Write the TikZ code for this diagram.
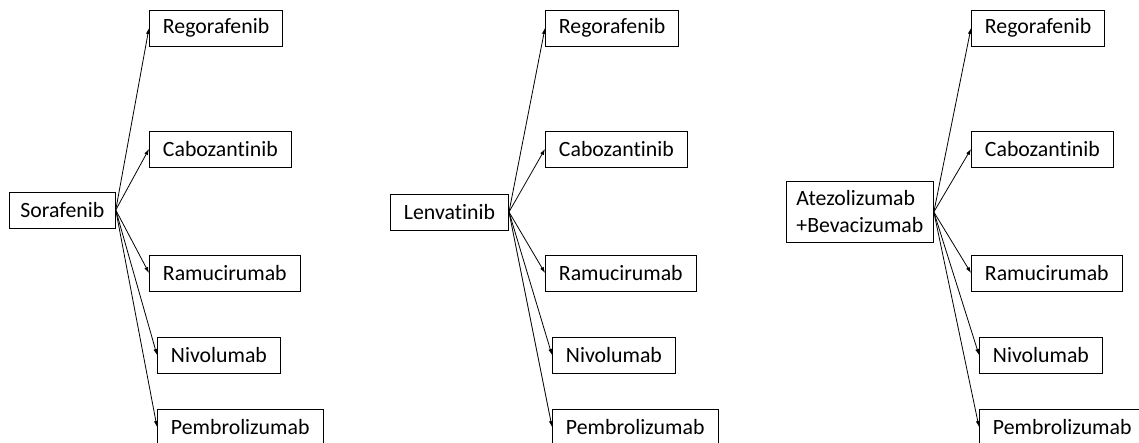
\documentclass[tikz,border=0pt]{standalone}
\usepackage{fontspec}
\setmainfont{Carlito}[Ligatures=NoCommon]
\usetikzlibrary{arrows.meta}

\begin{document}
\begin{tikzpicture}[x=1pt, y=1pt,
  box/.style={draw, line width=0.9pt, inner xsep=13.5pt, inner ysep=0pt,
    minimum height=36pt, anchor=west, align=left,
    font=\fontsize{21.8}{27}\selectfont},
  arr/.style={-{Latex[length=6pt,width=4pt]}, line width=0.8pt}]
\useasboundingbox (0,0) rectangle (1139,442);

\def\ya{414}; % Regorafenib
\def\yb{293}; % Cabozantinib
\def\yc{169}; % Ramucirumab
\def\yd{87};  % Nivolumab
\def\ye{15};  % Pembrolizumab

% left: Sorafenib
\def\xs{9};
\def\xl{149};
\def\xr{157};

\node[box, inner xsep=11pt] (s) at (\xs, 232) {Sorafenib};
\node[box] (s1) at (\xl, \ya) {Regorafenib};
\node[box] (s2) at (\xl, \yb) {Cabozantinib};
\node[box] (s3) at (\xl, \yc) {Ramucirumab};
\node[box] (s4) at (\xr, \yd) {Nivolumab};
\node[box] (s5) at (\xr, \ye) {Pembrolizumab};

\draw[arr] (s.east) -- (s1.west);
\draw[arr] (s.east) -- (s2.west);
\draw[arr] (s.east) -- (s3.west);
\draw[arr] (s.east) -- (s4.west);
\draw[arr] (s.east) -- (s5.west);

% middle: Lenvatinib
\def\xs{390};
\def\xl{545};
\def\xr{552};

\node[box] (l) at (\xs, 230) {Lenvatinib};
\node[box] (l1) at (\xl, \ya) {Regorafenib};
\node[box] (l2) at (\xl, \yb) {Cabozantinib};
\node[box] (l3) at (\xl, \yc) {Ramucirumab};
\node[box] (l4) at (\xr, \yd) {Nivolumab};
\node[box] (l5) at (\xr, \ye) {Pembrolizumab};

\draw[arr] (l.east) -- (l1.west);
\draw[arr] (l.east) -- (l2.west);
\draw[arr] (l.east) -- (l3.west);
\draw[arr] (l.east) -- (l4.west);
\draw[arr] (l.east) -- (l5.west);

% right: Atezolizumab+Bevacizumab
\def\xs{786};
\def\xl{971};
\def\xr{979};

\node[box, minimum height=61pt, inner xsep=10pt] (a) at (\xs, 230) {Atezolizumab\\+Bevacizumab};
\node[box] (a1) at (\xl, \ya) {Regorafenib};
\node[box] (a2) at (\xl, \yb) {Cabozantinib};
\node[box] (a3) at (\xl, \yc) {Ramucirumab};
\node[box] (a4) at (\xr, \yd) {Nivolumab};
\node[box] (a5) at (\xr, \ye) {Pembrolizumab};

\draw[arr] (a.east) -- (a1.west);
\draw[arr] (a.east) -- (a2.west);
\draw[arr] (a.east) -- (a3.west);
\draw[arr] (a.east) -- (a4.west);
\draw[arr] (a.east) -- (a5.west);

\end{tikzpicture}
\end{document}
